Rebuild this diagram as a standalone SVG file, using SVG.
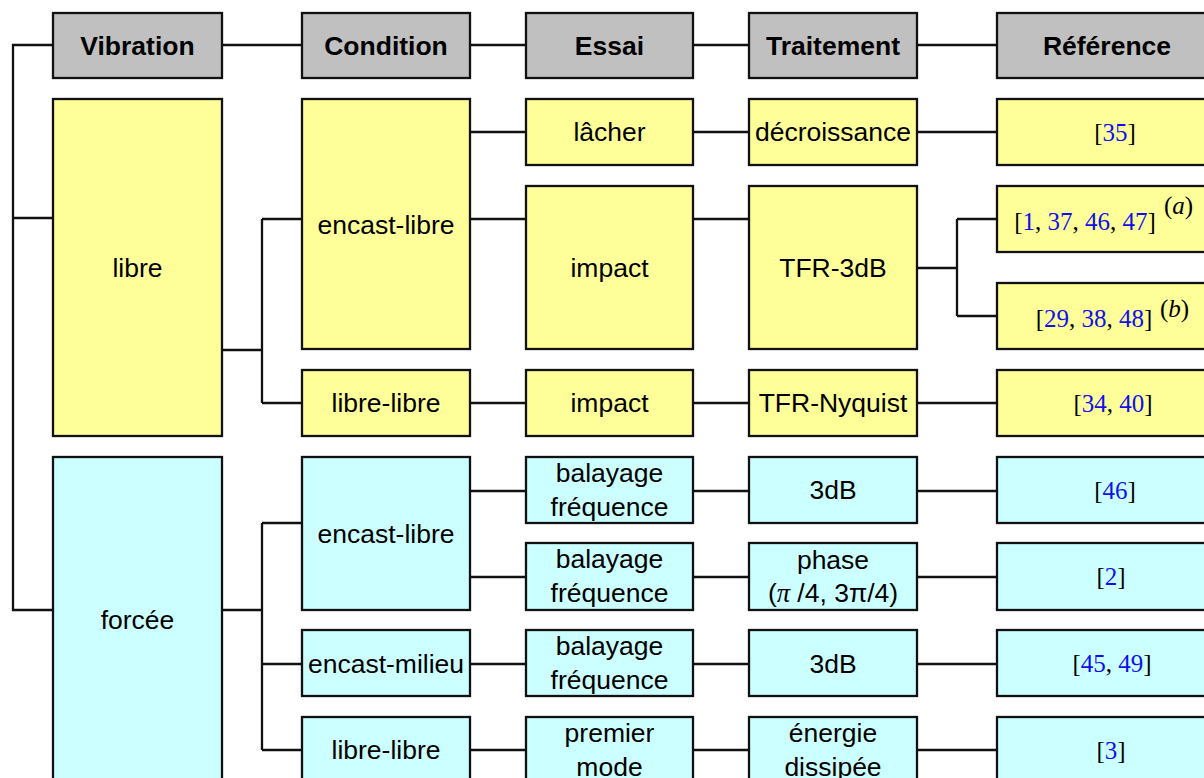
<svg xmlns="http://www.w3.org/2000/svg" width="1204" height="778" viewBox="0 0 1204 778">
<style>
rect{stroke:#111;stroke-width:2.3}
.h{fill:#c0c0c0}
.y{fill:#ffff99}
.c{fill:#ccffff}
text{font-family:"Liberation Sans",Arial,sans-serif;font-size:26.5px;fill:#000;text-anchor:middle}
.b{font-weight:bold}
.r{font-family:"Liberation Serif","Times New Roman",serif;font-size:25px}
.r tspan.n{fill:#1010ee}
.s{font-family:"Liberation Serif","Times New Roman",serif;font-size:25px;text-anchor:start}
#conn path{fill:none;stroke:#111;stroke-width:2.3}
</style>
<rect width="1204" height="778" fill="#fff" style="stroke:none"/>
<g id="conn">
<path d="M53 45H13V610H53M13 218H53"/>
<path d="M222 45H302M470 45H526M693 45H749M917 45H997"/>
<path d="M222 350H262M262 219V403M262 219H302M262 403H302"/>
<path d="M470 132H526M470 219H526"/>
<path d="M693 132H749M917 132H997"/>
<path d="M693 219H749M917 268H957M957 219V316M957 219H997M957 316H997"/>
<path d="M470 403H526M693 403H749M917 403H997"/>
<path d="M222 610H262M262 523V750M262 523H302M262 664H302M262 750H302"/>
<path d="M470 491H526M470 577H526"/>
<path d="M693 491H749M917 491H997"/>
<path d="M693 577H749M917 577H997"/>
<path d="M470 664H526M693 664H749M917 664H997"/>
<path d="M470 750H526M693 750H749M917 750H997"/>
</g>
<g id="h-vibration"><rect class="h" x="53" y="13" width="169" height="65"/><text class="b" x="137.5" y="55">Vibration</text></g>
<g id="h-condition"><rect class="h" x="302" y="13" width="168" height="65"/><text class="b" x="386" y="55">Condition</text></g>
<g id="h-essai"><rect class="h" x="526" y="13" width="167" height="65"/><text class="b" x="609.5" y="55">Essai</text></g>
<g id="h-traitement"><rect class="h" x="749" y="13" width="168" height="65"/><text class="b" x="833" y="55">Traitement</text></g>
<g id="h-reference"><rect class="h" x="997" y="13" width="230" height="65"/><text class="b" x="1107" y="55">Référence</text></g>

<g id="libre"><rect class="y" x="53" y="99" width="169" height="337"/><text x="137.5" y="277">libre</text></g>
<g id="c-encast-libre-1"><rect class="y" x="302" y="99" width="168" height="250"/><text x="386" y="234">encast-libre</text></g>
<g id="c-libre-libre-1"><rect class="y" x="302" y="370" width="168" height="66"/><text x="386" y="412">libre-libre</text></g>
<g id="e-lacher"><rect class="y" x="526" y="99" width="167" height="66"/><text x="609.5" y="141">lâcher</text></g>
<g id="e-impact-1"><rect class="y" x="526" y="186" width="167" height="163"/><text x="609.5" y="277">impact</text></g>
<g id="e-impact-2"><rect class="y" x="526" y="370" width="167" height="66"/><text x="609.5" y="412">impact</text></g>
<g id="t-decroissance"><rect class="y" x="749" y="99" width="168" height="66"/><text x="833" y="141">décroissance</text></g>
<g id="t-tfr3db"><rect class="y" x="749" y="186" width="168" height="163"/><text x="833" y="277">TFR-3dB</text></g>
<g id="t-tfrnyq"><rect class="y" x="749" y="370" width="168" height="66"/><text x="833" y="412">TFR-Nyquist</text></g>
<g id="r-35"><rect class="y" x="997" y="99" width="230" height="66"/><text class="r" x="1115" y="141">[<tspan class="n">35</tspan>]</text></g>
<g id="r-a"><rect class="y" x="997" y="186" width="230" height="66"/><text class="r" x="1085" y="230">[<tspan class="n">1</tspan>, <tspan class="n">37</tspan>, <tspan class="n">46</tspan>, <tspan class="n">47</tspan>]</text><text class="s" x="1164" y="214">(<tspan font-style="italic">a</tspan>)</text></g>
<g id="r-b"><rect class="y" x="997" y="283" width="230" height="66"/><text class="r" x="1094" y="327">[<tspan class="n">29</tspan>, <tspan class="n">38</tspan>, <tspan class="n">48</tspan>]</text><text class="s" x="1160" y="317">(<tspan font-style="italic">b</tspan>)</text></g>
<g id="r-34-40"><rect class="y" x="997" y="370" width="230" height="66"/><text class="r" x="1113" y="412">[<tspan class="n">34</tspan>, <tspan class="n">40</tspan>]</text></g>

<g id="forcee"><rect class="c" x="53" y="457" width="169" height="330"/><text x="137.5" y="629">forcée</text></g>
<g id="c-encast-libre-2"><rect class="c" x="302" y="457" width="168" height="153"/><text x="386" y="543">encast-libre</text></g>
<g id="c-encast-milieu"><rect class="c" x="302" y="630" width="168" height="66"/><text x="386" y="673">encast-milieu</text></g>
<g id="c-libre-libre-2"><rect class="c" x="302" y="717" width="168" height="70"/><text x="386" y="759">libre-libre</text></g>
<g id="e-bal-1"><rect class="c" x="526" y="457" width="167" height="66"/><text x="609.5" y="482">balayage</text><text x="609.5" y="516">fréquence</text></g>
<g id="e-bal-2"><rect class="c" x="526" y="543" width="167" height="67"/><text x="609.5" y="568">balayage</text><text x="609.5" y="602">fréquence</text></g>
<g id="e-bal-3"><rect class="c" x="526" y="630" width="167" height="66"/><text x="609.5" y="655">balayage</text><text x="609.5" y="689">fréquence</text></g>
<g id="e-premier"><rect class="c" x="526" y="717" width="167" height="70"/><text x="609.5" y="742">premier</text><text x="609.5" y="776">mode</text></g>
<g id="t-3db-1"><rect class="c" x="749" y="457" width="168" height="66"/><text x="833" y="499">3dB</text></g>
<g id="t-phase"><rect class="c" x="749" y="543" width="168" height="67"/><text x="833" y="569">phase</text><text x="833" y="602">(<tspan font-family="Liberation Serif,serif" font-style="italic">π</tspan> /4, 3π/4)</text></g>
<g id="t-3db-2"><rect class="c" x="749" y="630" width="168" height="66"/><text x="833" y="673">3dB</text></g>
<g id="t-energie"><rect class="c" x="749" y="717" width="168" height="70"/><text x="833" y="742">énergie</text><text x="833" y="776">dissipée</text></g>
<g id="r-46"><rect class="c" x="997" y="457" width="230" height="66"/><text class="r" x="1115" y="499">[<tspan class="n">46</tspan>]</text></g>
<g id="r-2"><rect class="c" x="997" y="543" width="230" height="67"/><text class="r" x="1111" y="585">[<tspan class="n">2</tspan>]</text></g>
<g id="r-45-49"><rect class="c" x="997" y="630" width="230" height="66"/><text class="r" x="1112" y="672">[<tspan class="n">45</tspan>, <tspan class="n">49</tspan>]</text></g>
<g id="r-3"><rect class="c" x="997" y="717" width="230" height="70"/><text class="r" x="1111" y="759">[<tspan class="n">3</tspan>]</text></g>
</svg>
